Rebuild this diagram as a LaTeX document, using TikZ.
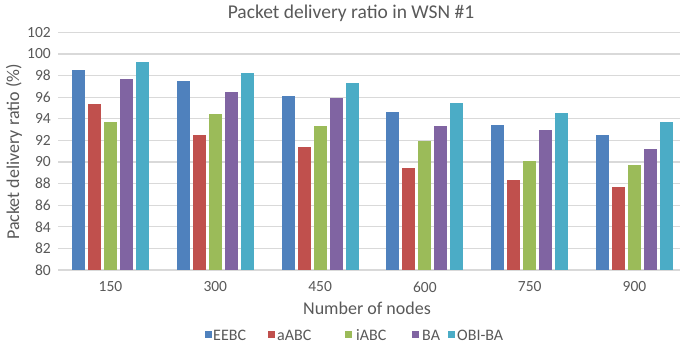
\documentclass[tikz,border=0pt]{standalone}
\usepackage{fontspec}
\setmainfont{Carlito}
\definecolor{cEEBC}{HTML}{4F81BD}
\definecolor{caABC}{HTML}{C0504D}
\definecolor{ciABC}{HTML}{9BBB59}
\definecolor{cBA}{HTML}{8064A2}
\definecolor{cOBI}{HTML}{4BACC6}
\definecolor{txtgray}{HTML}{595959}
\definecolor{gridgray}{HTML}{D9D9D9}
\tikzset{
  ticklabel/.style={text=txtgray, font=\fontsize{15.5}{18}\selectfont, inner sep=0pt},
  axistitle/.style={text=txtgray, font=\fontsize{18}{21}\selectfont, inner sep=0pt},
  charttitle/.style={text=txtgray, font=\fontsize{19.5}{23}\selectfont, inner sep=0pt},
  legendtext/.style={text=txtgray, font=\fontsize{16}{19}\selectfont, inner sep=0pt, anchor=base west},
  gridline/.style={draw=gridgray, line width=1.1pt},
  legendkey/.style={inner sep=0pt, minimum size=7pt},
}
% value (in %) to vertical position
\newcommand{\ypos}[1]{270-(#1-80)*10.8}
\begin{document}
\begin{tikzpicture}[x=1pt,y=-1pt]
\useasboundingbox (0,0) rectangle (680,343);
\clip (0,0) rectangle (680,343);
\fill[white] (0,0) rectangle (680,343);

% grid lines and value axis labels
\foreach \v in {80,82,...,102}{
  \draw[gridline] (58,{\ypos{\v}}) -- (680,{\ypos{\v}});
  \node[ticklabel, anchor=east] (tick\v) at (51,{\ypos{\v}}) {\v};
}

% bars: group index / category / EEBC / aABC / iABC / BA / OBI-BA
\foreach \g/\lab/\va/\vb/\vc/\vd/\ve in {
    0/150/98.5/95.4/93.7/97.7/99.3,
    1/300/97.5/92.5/94.4/96.5/98.2,
    2/450/96.1/91.4/93.3/95.9/97.3,
    3/600/94.6/89.4/91.9/93.3/95.5,
    4/750/93.4/88.3/90.1/93.0/94.5,
    5/900/92.5/87.7/89.7/91.2/93.7}{
  \pgfmathsetmacro{\xl}{72+\g*104.8}
  \fill[cEEBC] (\xl,270) rectangle ({\xl+13},{\ypos{\va}});
  \fill[caABC] ({\xl+16},270) rectangle ({\xl+29},{\ypos{\vb}});
  \fill[ciABC] ({\xl+32},270) rectangle ({\xl+45},{\ypos{\vc}});
  \fill[cBA]   ({\xl+48},270) rectangle ({\xl+61},{\ypos{\vd}});
  \fill[cOBI]  ({\xl+64},270) rectangle ({\xl+77},{\ypos{\ve}});
  \node[ticklabel] (cat\lab) at ({\xl+38.5},287) {\lab};
}

% titles
\node[charttitle] (title) at (351,13) {Packet delivery ratio in WSN \#1};
\node[axistitle] (xtitle) at (367,308) {Number of nodes};
\node[axistitle, rotate=90] (ytitle) at (14,152) {Packet delivery ratio (\%)};

% legend along the bottom border
\node[legendkey, fill=cEEBC] (kEEBC) at (208.5,334) {};
\node[legendtext] (lEEBC) at (213,340) {EEBC};
\node[legendkey, fill=caABC] (kaABC) at (271.5,334) {};
\node[legendtext] (laABC) at (277,340) {aABC};
\node[legendkey, fill=ciABC] (kiABC) at (348.5,334) {};
\node[legendtext] (liABC) at (356,340) {iABC};
\node[legendkey, fill=cBA] (kBA) at (415.5,334) {};
\node[legendtext] (lBA) at (422,340) {BA};
\node[legendkey, fill=cOBI] (kOBI) at (451.5,334) {};
\node[legendtext] (lOBI) at (457,340) {OBI-BA};
\end{tikzpicture}
\end{document}
